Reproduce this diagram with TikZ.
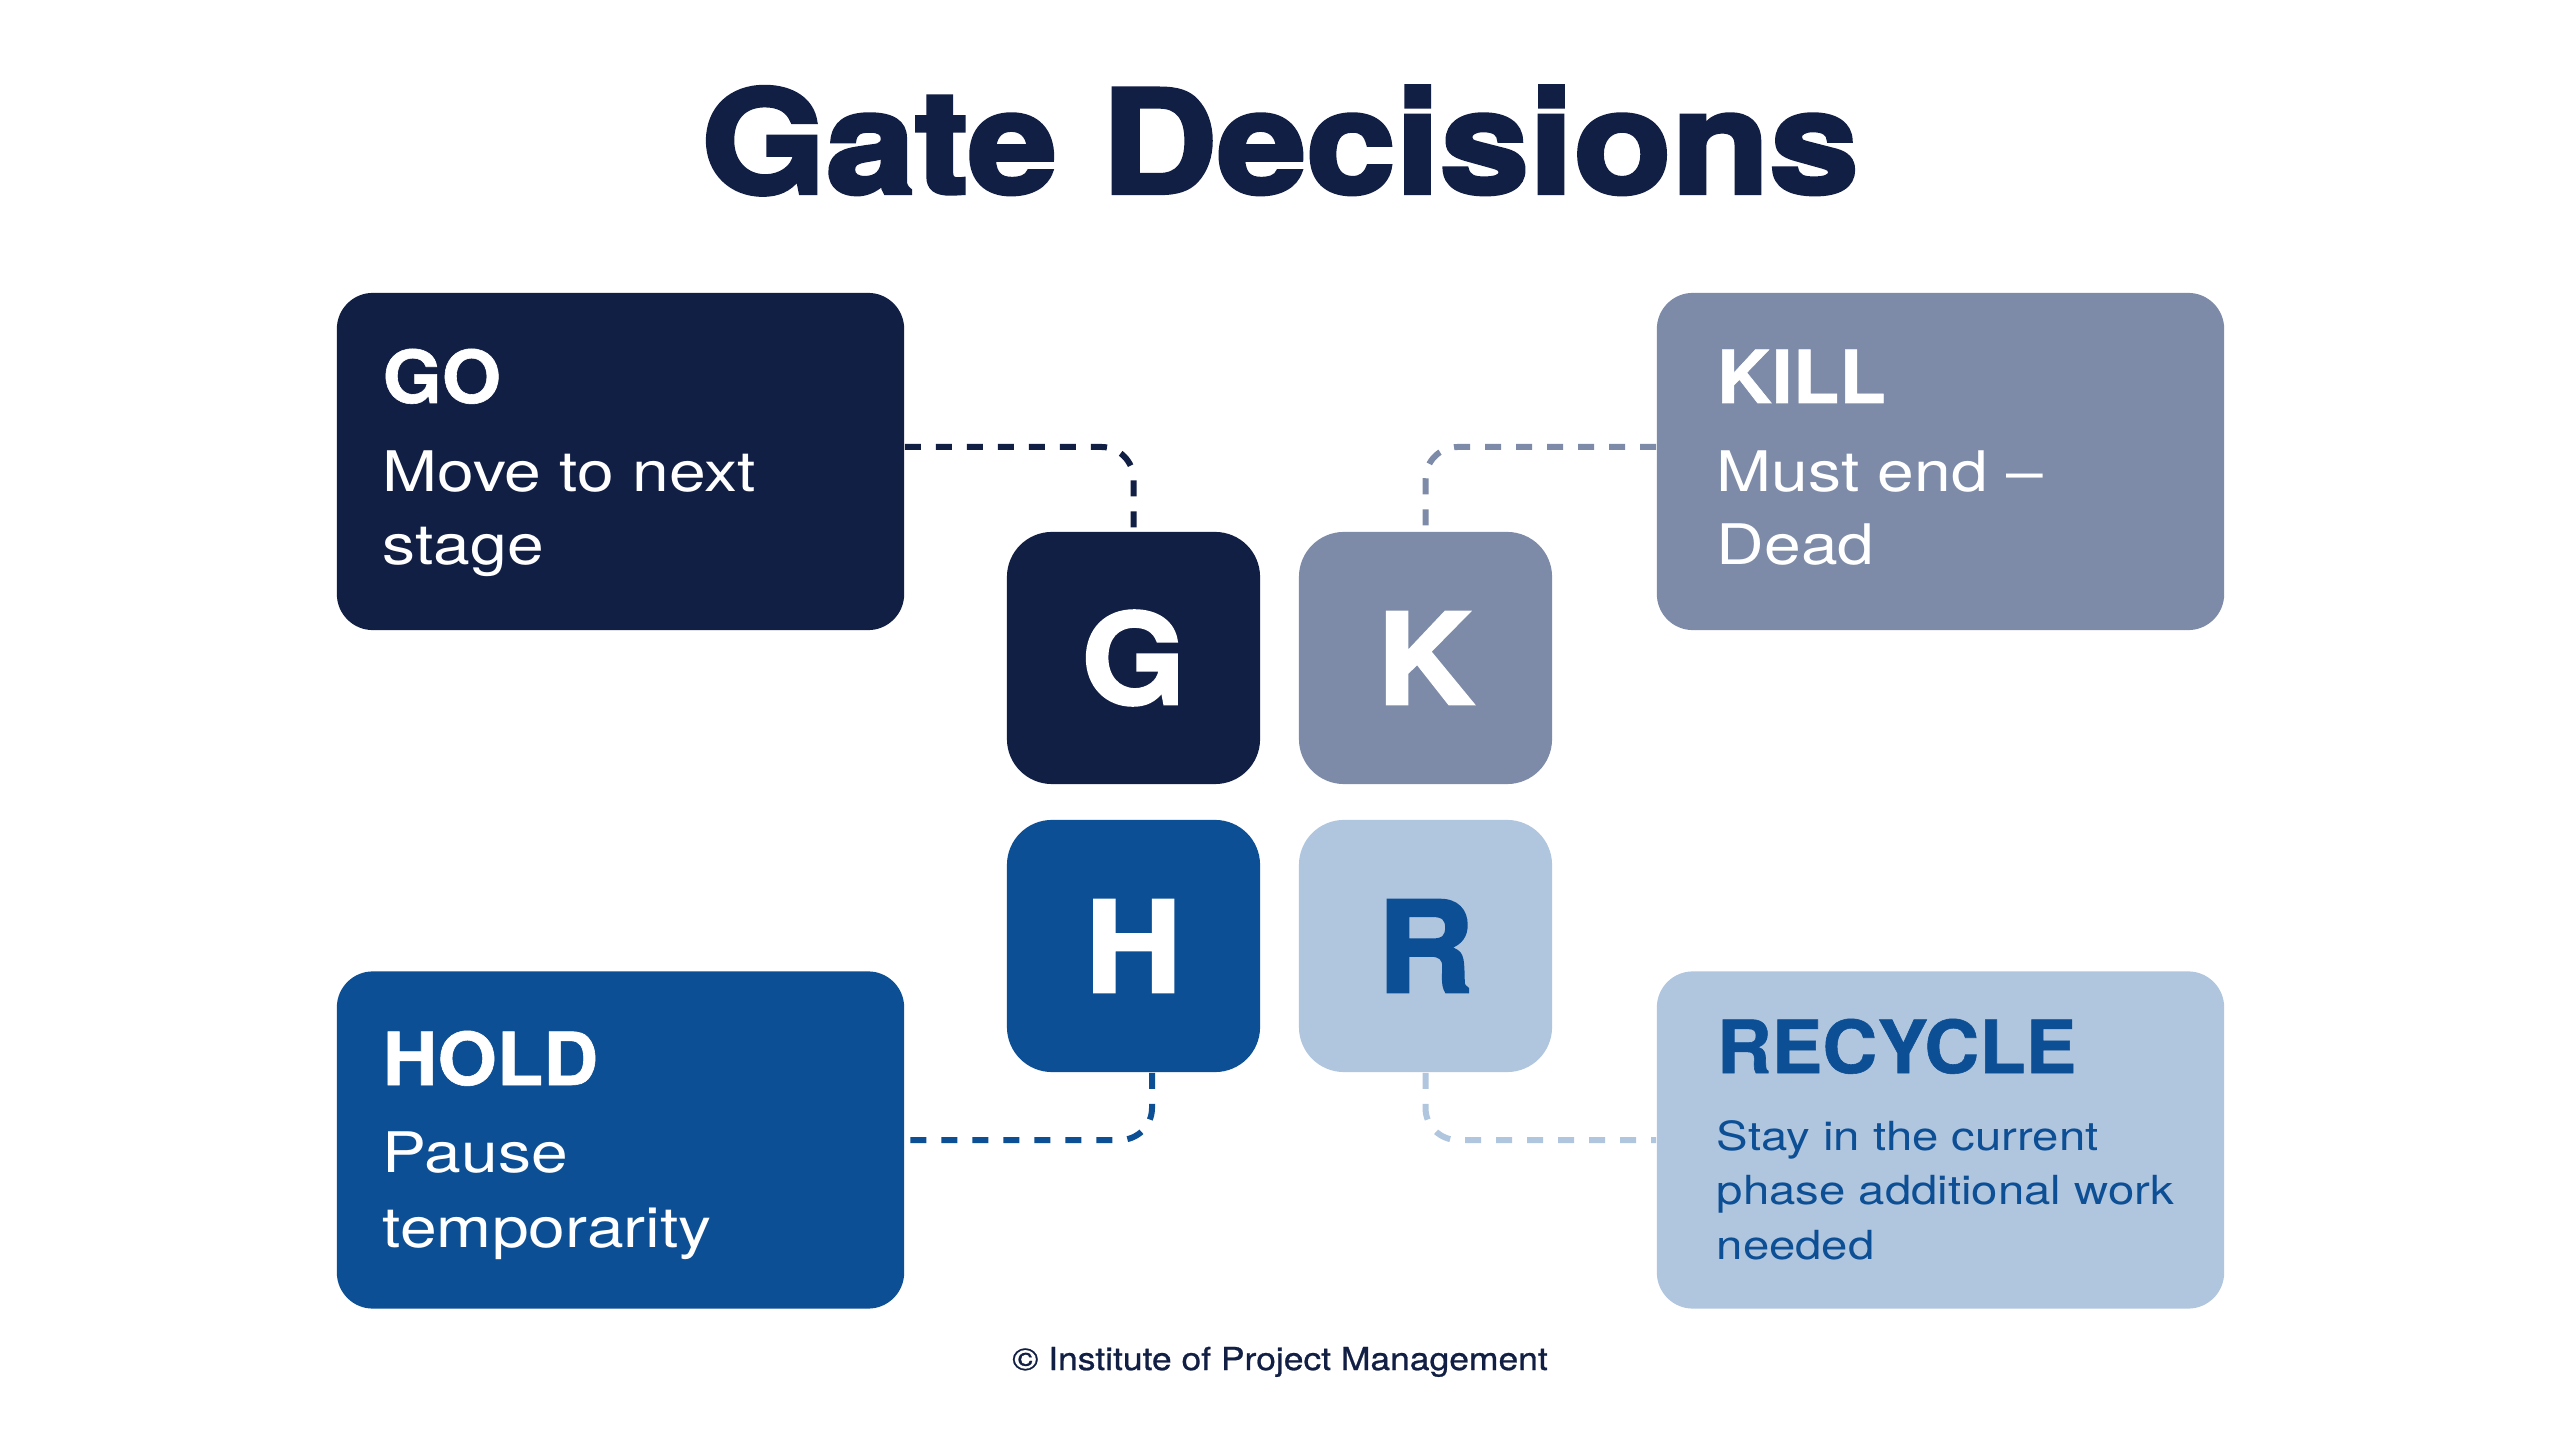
\documentclass[tikz,border=0pt]{standalone}
\usepackage{fontspec}
\setmainfont{TeX Gyre Heros}
\newfontfamily\titlefont{TeX Gyre Heros}[BoldFeatures={FakeBold=3}, FakeStretch=1.12]
\newfontfamily\headfont{TeX Gyre Heros}[BoldFeatures={FakeBold=0.8}, FakeStretch=1.04]
\newfontfamily\bodyfont{TeX Gyre Heros}[FakeStretch=1.18]
\newfontfamily\footfont{TeX Gyre Heros}[FakeBold=0.8, FakeStretch=1.12]
\newfontfamily\letterfont{TeX Gyre Heros}[BoldFeatures={FakeBold=2}, FakeStretch=1.06]
\definecolor{navy}{HTML}{121F45}
\definecolor{slate}{HTML}{7D8BA8}
\definecolor{hblue}{HTML}{0D4F95}
\definecolor{light}{HTML}{B0C5DE}
\begin{document}
\begin{tikzpicture}[x=0.01cm, y=-0.01cm,
  bigbox/.style={rectangle, rounded corners=0.36cm, minimum width=5.67cm, minimum height=3.37cm, inner sep=0pt, draw=none},
  sq/.style={rectangle, rounded corners=0.45cm, minimum width=2.53cm, minimum height=2.52cm, inner sep=0pt, draw=none, font=\letterfont\bfseries\fontsize{35.9}{40}\selectfont},
  conn/.style={line width=0.06cm, dash pattern=on 0.16cm off 0.15cm, rounded corners=0.32cm},
  headtxt/.style={anchor=base west, inner sep=0pt, font=\headfont\bfseries\fontsize{20.8}{25}\selectfont},
  bodytxt/.style={anchor=base west, inner sep=0pt, font=\bodyfont\fontsize{15.9}{20}\selectfont},
  smalltxt/.style={anchor=base west, inner sep=0pt, font=\bodyfont\fontsize{11.4}{15}\selectfont}]
\useasboundingbox[fill=white] (0,0) rectangle (2560,1437);

% title
\node[anchor=base, inner sep=0pt, text=navy, font=\titlefont\bfseries\fontsize{40.7}{48}\selectfont] (title) at (1280,193) {Gate Decisions};

% big boxes
\node[bigbox, fill=navy]  (GO)   at (620.5,461.5) {};
\node[bigbox, fill=slate] (KILL) at (1940.5,461.5) {};
\node[bigbox, fill=hblue] (HOLD) at (620.5,1140) {};
\node[bigbox, fill=light] (RECY) at (1940.5,1140) {};

% squares
\node[sq, fill=navy,  text=white] (G) at (1133.5,658) {G};
\node[sq, fill=slate, text=white] (K) at (1425.5,658) {K};
\node[sq, fill=hblue, text=white] (H) at (1133.5,946) {H};
\node[sq, fill=light, text=hblue] (R) at (1425.5,946) {R};

% connectors
\draw[conn, navy]  ([yshift=0.145cm]GO.east) -| (G.north);
\draw[conn, slate] ([yshift=0.145cm]KILL.west) -| (K.north);
\draw[conn, hblue] ([xshift=0.185cm]H.south) |- (HOLD.east);
\draw[conn, light] (R.south) |- (RECY.west);

% GO text
\node[headtxt, text=white] (GOh) at (382,403) {GO};
\node[bodytxt, text=white] (GOb1) at (382,492) {Move to next};
\node[bodytxt, text=white] (GOb2) at (382,565) {stage};

% KILL text
\node[headtxt, text=white] (KILLh) at (1716,403) {KILL};
\node[bodytxt, text=white] (KILLb1) at (1716,492) {Must end –};
\node[bodytxt, text=white] (KILLb2) at (1716,565) {Dead};

% HOLD text
\node[headtxt, text=white] (HOLDh) at (382,1085) {HOLD};
\node[bodytxt, text=white] (HOLDb1) at (382,1172) {Pause};
\node[bodytxt, text=white] (HOLDb2) at (382,1247) {temporarity};

% RECYCLE text
\node[headtxt, text=hblue] (RECYh) at (1716,1073) {RECYCLE};
\node[smalltxt, text=hblue] (RECYb1) at (1716,1150) {Stay in the current};
\node[smalltxt, text=hblue] (RECYb2) at (1716,1204) {phase additional work};
\node[smalltxt, text=hblue] (RECYb3) at (1716,1259) {needed};

% footer
\node[anchor=base, inner sep=0pt, text=navy, font=\footfont\fontsize{9}{11}\selectfont] (foot) at (1280,1370) {© Institute of Project Management};
\end{tikzpicture}
\end{document}
